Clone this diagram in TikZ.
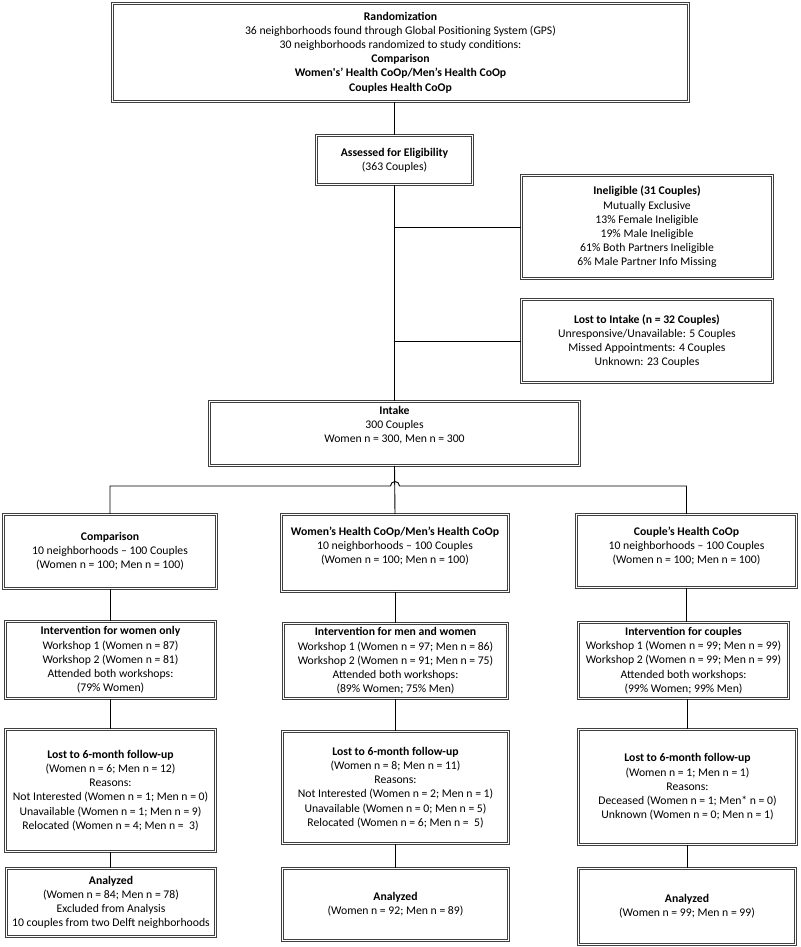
\documentclass[tikz,border=0pt]{standalone}
\usepackage{fontspec}
\setmainfont{Carlito}
\usepackage{tikz}
\usetikzlibrary{positioning, calc}

\tikzset{
  flowbox/.style={draw=black!75, double=white, double distance=1.6pt, line width=0.7pt,
    align=center, inner sep=1pt, font=\fontsize{11.7}{14.2}\selectfont},
  link/.style={draw=black, line width=0.9pt}
}

\begin{document}
\begin{tikzpicture}[x=1pt, y=-1pt]
            \useasboundingbox (0,0) rectangle (800,947);

            % --- TOP: randomization and screening ---
            \node[flowbox, minimum width=576pt, minimum height=98pt] (rand) at (400.5,52.5) {\textbf{Randomization}\\ 36 neighborhoods found through Global Positioning System (GPS)\\ 30 neighborhoods randomized to study conditions:\\ \textbf{Comparison}\\ \textbf{Women\textquotesingle s’ Health CoOp/Men’s Health CoOp}\\ \textbf{Couples Health CoOp}};

            \node[flowbox, minimum width=156pt, minimum height=49pt] (assess) at (394.5,160) {\textbf{Assessed for Eligibility}\\ (363 Couples)};

            \node[flowbox, minimum width=251pt, minimum height=103pt] (inelig) at (647,227) {\textbf{Ineligible (31 Couples)}\\ Mutually Exclusive\\ 13\% Female Ineligible\\ 19\% Male Ineligible\\ 61\% Both Partners Ineligible\\ 6\% Male Partner Info Missing};

            \node[flowbox, minimum width=251pt, minimum height=83pt] (lostin) at (647,341) {\textbf{Lost to Intake (n = 32 Couples)}\\ Unresponsive/Unavailable: 5 Couples\\ Missed Appointments: 4 Couples\\ Unknown: 23 Couples};

            \node[flowbox, minimum width=370pt, minimum height=64pt, text depth=18pt] (intake) at (394.5,433.5) {\textbf{Intake}\\ 300 Couples\\ Women n = 300, Men n = 300};

            \draw[link] (rand.south -| assess.north) -- (assess.north);
            \draw[link] (assess.south) -- (intake.north);
            \draw[link] (inelig.west) -- (inelig.west -| assess.south);
            \draw[link] (lostin.west) -- (lostin.west -| assess.south);

            % --- STUDY ARMS ---
            \node[flowbox, minimum width=213pt, minimum height=74pt] (comp) at (110,551.5) {\textbf{Comparison}\\ 10 neighborhoods – 100 Couples\\ (Women n = 100; Men n = 100)};

            \node[flowbox, minimum width=227pt, minimum height=77pt, text depth=16pt] (coop) at (395,553) {\textbf{Women’s Health CoOp/Men’s Health CoOp}\\ 10 neighborhoods – 100 Couples\\ (Women n = 100; Men n = 100)};

            \node[flowbox, minimum width=220pt, minimum height=73pt, text depth=12pt] (couple) at (686.5,551) {\textbf{Couple’s Health CoOp}\\ 10 neighborhoods – 100 Couples\\ (Women n = 100; Men n = 100)};

            \coordinate (bus) at (395,486);
            \draw[link] (intake.south) -- (coop.north);
            \draw[link] (comp.north) -- (comp.north |- bus) -- ([xshift=-4.5pt]bus) arc[start angle=180, end angle=0, radius=4.5pt] -- (bus -| couple.north) -- (couple.north);

            % --- INTERVENTIONS ---
            \node[flowbox, minimum width=210pt, minimum height=77pt] (intW) at (110.5,660) {\textbf{Intervention for women only}\\ Workshop 1 (Women n = 87)\\ Workshop 2 (Women n = 81)\\ Attended both workshops:\\ (79\% Women)};

            \node[flowbox, minimum width=224pt, minimum height=75pt] (intMW) at (395.5,661) {\textbf{Intervention for men and women}\\ Workshop 1 (Women n = 97; Men n = 86)\\ Workshop 2 (Women n = 91; Men n = 75)\\ Attended both workshops:\\ (89\% Women; 75\% Men)};

            \node[flowbox, minimum width=210pt, minimum height=76pt] (intC) at (683.5,660.5) {\textbf{Intervention for couples}\\ Workshop 1 (Women n = 99; Men n = 99)\\ Workshop 2 (Women n = 99; Men n = 99)\\ Attended both workshops:\\ (99\% Women; 99\% Men)};

            \draw[link] (comp.south) -- (comp.south |- intW.north);
            \draw[link] (coop.south) -- (coop.south |- intMW.north);
            \draw[link] (couple.south) -- (couple.south |- intC.north);

            % --- FOLLOW-UP ---
            \node[flowbox, minimum width=210pt, minimum height=122pt] (lostW) at (110.5,790.5) {\textbf{Lost to 6-month follow-up}\\ (Women n = 6; Men n = 12)\\ Reasons:\\ Not Interested (Women n = 1; Men n = 0)\\ Unavailable (Women n = 1; Men n = 9)\\ Relocated (Women n = 4; Men n = \ 3)};

            \node[flowbox, minimum width=226pt, minimum height=112pt] (lostMW) at (395.5,787.5) {\textbf{Lost to 6-month follow-up}\\ (Women n = 8; Men n = 11)\\ Reasons:\\ Not Interested (Women n = 2; Men n = 1)\\ Unavailable (Women n = 0; Men n = 5)\\ Relocated (Women n = 6; Men n = \ 5)};

            \node[flowbox, minimum width=218pt, minimum height=115pt] (lostC) at (687.5,787) {\textbf{Lost to 6-month follow-up}\\ (Women n = 1; Men n = 1)\\ Reasons:\\ Deceased (Women n = 1; Men* n = 0)\\ Unknown (Women n = 0; Men n = 1)};

            \draw[link] (intW.south -| lostW.north) -- (lostW.north);
            \draw[link] (intMW.south -| lostMW.north) -- (lostMW.north);
            \draw[link] (intC.south -| lostC.north) -- (lostC.north);

            % --- ANALYSIS ---
            \node[flowbox, minimum width=209pt, minimum height=68pt] (anW) at (111,902.5) {\textbf{Analyzed}\\ (Women n = 84; Men n = 78)\\ Excluded from Analysis\\ 10 couples from two Delft neighborhoods};

            \node[flowbox, minimum width=226pt, minimum height=72pt] (anMW) at (395.5,904.5) {\textbf{Analyzed}\\ (Women n = 92; Men n = 89)};

            \node[flowbox, minimum width=217pt, minimum height=76pt] (anC) at (687,906.5) {\textbf{Analyzed}\\ (Women n = 99; Men n = 99)};

            \draw[link] (lostW.south) -- (lostW.south |- anW.north);
            \draw[link] (lostMW.south) -- (lostMW.south |- anMW.north);
            \draw[link] (lostC.south) -- (lostC.south |- anC.north);

        \end{tikzpicture}
\end{document}
